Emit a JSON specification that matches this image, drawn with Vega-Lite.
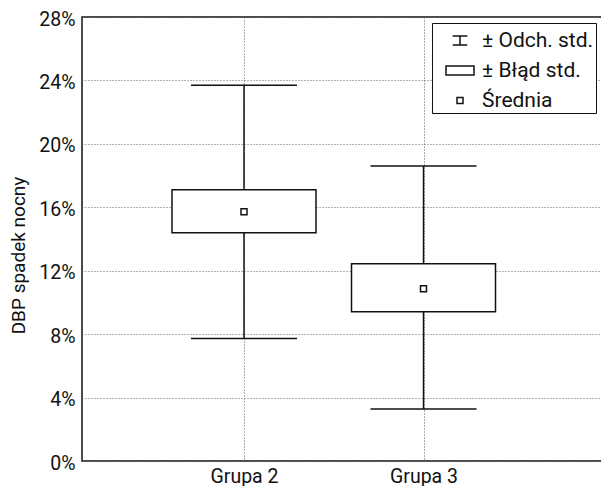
{
  "$schema": "https://vega.github.io/schema/vega-lite/v6.json",
  "width": 520,
  "height": 444,
  "autosize": {"type": "none"},
  "padding": {"left": 82, "top": 17, "right": 0, "bottom": 25},
  "background": "white",
  "config": {
    "font": "Roboto",
    "view": {"stroke": "#111", "strokeWidth": 1.5},
    "axis": {
      "labelFont": "Roboto",
      "titleFont": "Roboto",
      "labelFontSize": 19.5,
      "titleFontSize": 19,
      "labelColor": "#111",
      "titleColor": "#111",
      "titleFontWeight": "normal",
      "ticks": false,
      "domain": false,
      "gridColor": "#666",
      "gridDash": [1, 2],
      "gridWidth": 1,
      "gridOpacity": 1
    },
    "legend": {
      "orient": "top-right",
      "offset": 6,
      "strokeColor": "#111",
      "strokeWidth": 1,
      "fillColor": "white",
      "padding": 2.5,
      "symbolSize": 784,
      "symbolStrokeWidth": 1.5,
      "symbolStrokeColor": "#111",
      "symbolOffset": 10.5,
      "labelOffset": 7,
      "labelFont": "Roboto",
      "labelFontSize": 21,
      "labelColor": "#111",
      "labelLimit": 400,
      "rowPadding": 5
    }
  },
  "data": {
    "values": [
      {"grupa": "Grupa 2", "mean": 0.1572, "se_lo": 0.1439, "se_hi": 0.1711, "sd_lo": 0.0772, "sd_hi": 0.2369},
      {"grupa": "Grupa 3", "mean": 0.1086, "se_lo": 0.0941, "se_hi": 0.1244, "sd_lo": 0.0328, "sd_hi": 0.186}
    ]
  },
  "encoding": {
    "x": {
      "field": "grupa",
      "type": "nominal",
      "scale": {"type": "point", "padding": 0.9485, "align": 0.4758},
      "axis": {"title": null, "labelAngle": 0, "labelPadding": 6, "grid": true, "gridColor": "#555"}
    }
  },
  "layer": [
    {
      "mark": {"type": "rule", "stroke": "#111", "strokeWidth": 1.5},
      "encoding": {
        "y": {
          "field": "sd_lo",
          "type": "quantitative",
          "scale": {"domain": [0, 0.28], "nice": false, "zero": true},
          "axis": {
            "values": [0, 0.04, 0.08, 0.12, 0.16, 0.2, 0.24, 0.28],
            "format": ".0%",
            "title": "DBP spadek nocny",
            "grid": true,
            "labelPadding": 7,
            "labelOffset": 2,
            "titleX": -58,
            "titleY": 238,
            "titleBaseline": "alphabetic"
          }
        },
        "y2": {"field": "sd_hi"}
      }
    },
    {
      "mark": {"type": "tick", "size": 106, "thickness": 1.5, "color": "#111", "opacity": 1, "orient": "horizontal"},
      "encoding": {"y": {"field": "sd_hi", "type": "quantitative"}}
    },
    {
      "mark": {"type": "tick", "size": 106, "thickness": 1.5, "color": "#111", "opacity": 1, "orient": "horizontal"},
      "encoding": {"y": {"field": "sd_lo", "type": "quantitative"}}
    },
    {
      "mark": {"type": "bar", "size": 144, "fill": "white", "stroke": "#111", "strokeWidth": 1.5, "opacity": 1},
      "encoding": {
        "y": {"field": "se_lo", "type": "quantitative"},
        "y2": {"field": "se_hi"}
      }
    },
    {
      "mark": {"type": "point", "filled": false, "size": 784, "strokeWidth": 1.5, "color": "#111", "opacity": 1},
      "encoding": {
        "y": {"field": "mean", "type": "quantitative"},
        "shape": {
          "datum": "Średnia",
          "type": "nominal",
          "scale": {
            "domain": ["± Odch. std.", "± Błąd std.", "Średnia"],
            "range": [
              "M-0.52,-0.32H0.52M0,-0.32V0.32M-0.52,0.32H0.52",
              "M-1,-0.32H1V0.32H-1Z",
              "M-0.214,-0.214H0.214V0.214H-0.214Z"
            ]
          },
          "legend": {"title": null}
        }
      }
    }
  ]
}
